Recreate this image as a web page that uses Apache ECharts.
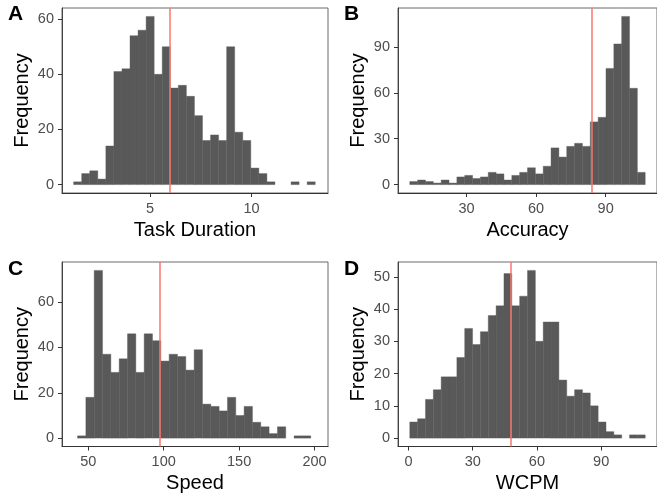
<!DOCTYPE html>
<html>
<head>
<meta charset="utf-8">
<script src="https://cdn.jsdelivr.net/npm/echarts@6/dist/echarts.min.js"></script>
<style>
  html, body { margin: 0; padding: 0; background: #fff; }
  #chart { width: 657px; height: 499px; }
</style>
</head>
<body>
<div id="chart"></div>
<script>
// histogram counts (30 bins per panel, 28 for speed)
const durationCounts = [1, 4, 5, 2, 14, 41, 42, 54, 56, 61, 40, 50, 35, 36, 32, 25, 16, 18, 16, 50, 19, 16, 6, 4, 1, 0, 0, 1, 0, 1];
const accuracyCounts = [2, 3, 2, 1, 3, 1, 5, 6, 4, 5, 8, 7, 3, 6, 8, 11, 7, 12, 24, 18, 25, 27, 25, 41, 44, 76, 92, 110, 63, 8];
const speedCounts = [1, 18, 74, 37, 29, 35, 46, 29, 46, 43, 34, 37, 36, 30, 39, 15, 14, 12, 18, 10, 14, 7, 5, 2, 5, 0, 1, 1];
const wcpmCounts = [5, 6, 12, 15, 19, 19, 25, 34, 29, 33, 38, 41, 51, 41, 44, 52, 30, 36, 36, 18, 13, 15, 14, 10, 5, 2, 1, 0, 1, 1];

// first bin edge and bin width of each histogram
const durationBin = [1.23, 0.397];
const accuracyBin = [5.52, 3.385];
const speedBin = [42.9, 5.52];
const wcpmBin = [0.6, 3.667];

// mean lines
const means = [5.95, 84, 97.7, 47.7];

// tick labels
const durationTicks = [5, 10];
const accuracyTicks = [30, 60, 90];
const speedTicks = [50, 100, 150, 200];
const wcpmTicks = [0, 30, 60, 90];
const freqTicksA = [0, 20, 40, 60];
const freqTicksB = [0, 30, 60, 90];
const freqTicksC = [0, 20, 40, 60];
const freqTicksD = [0, 10, 20, 30, 40, 50];

const names = ['Task Duration', 'Accuracy', 'Speed', 'WCPM'];
const letters = ['A', 'B', 'C', 'D'];

function toBins(counts, bin) {
  return counts.map((c, i) => [bin[0] + i * bin[1], bin[0] + (i + 1) * bin[1], c]);
}

const panels = [
  { data: toBins(durationCounts, durationBin), xMin: 0.656, xMax: 13.77, yMax: 61, xTicks: durationTicks, yTicks: freqTicksA },
  { data: toBins(accuracyCounts, accuracyBin), xMin: 0.44, xMax: 112.15, yMax: 110, xTicks: accuracyTicks, yTicks: freqTicksB },
  { data: toBins(speedCounts, speedBin), xMin: 32.6, xMax: 208.9, yMax: 74, xTicks: speedTicks, yTicks: freqTicksC },
  { data: toBins(wcpmCounts, wcpmBin), xMin: -4.9, xMax: 116.1, yMax: 52, xTicks: wcpmTicks, yTicks: freqTicksD },
];

const grids = [
  { left: 62, top: 8, width: 266, height: 185 },
  { left: 398, top: 8, width: 267, height: 185 },
  { left: 62, top: 262, width: 266, height: 184.5 },
  { left: 398, top: 262, width: 267, height: 184.5 },
];

const font = 'Liberation Sans, Arial, sans-serif';
const chart = echarts.init(document.getElementById('chart'));

const option = {
  animation: false,
  backgroundColor: '#fff',
  title: letters.map((l, i) => ({
    text: l,
    left: i % 2 === 0 ? 8 : 344,
    top: i < 2 ? 4 : 259,
    padding: 0,
    textStyle: { fontSize: 21, fontWeight: 'bold', color: '#000', fontFamily: font },
  })),
  grid: grids.map(g => ({ ...g, show: true, borderColor: '#6b6b6b', borderWidth: 1, backgroundColor: 'transparent' })),
  xAxis: panels.map((p, i) => ({
    type: 'value',
    gridIndex: i,
    min: p.xMin,
    max: p.xMax,
    name: names[i],
    nameLocation: 'middle',
    nameGap: 27,
    nameTextStyle: { fontSize: 20, color: '#000', fontFamily: font },
    splitLine: { show: false },
    axisLine: { onZero: false, lineStyle: { color: '#333', width: 1 } },
    axisTick: { show: true, length: 4, customValues: p.xTicks, lineStyle: { color: '#333' } },
    axisLabel: { customValues: p.xTicks, margin: 8, fontSize: 14.5, color: '#4d4d4d', fontFamily: font },
  })),
  yAxis: panels.map((p, i) => ({
    type: 'value',
    gridIndex: i,
    min: -0.05 * p.yMax,
    max: 1.05 * p.yMax,
    name: 'Frequency',
    nameLocation: 'middle',
    nameGap: 30,
    nameTextStyle: { fontSize: 20, color: '#000', fontFamily: font },
    splitLine: { show: false },
    axisLine: { onZero: false, lineStyle: { color: '#444', width: 1 } },
    axisTick: { show: true, length: 4, customValues: p.yTicks, lineStyle: { color: '#333' } },
    axisLabel: { customValues: p.yTicks, margin: 8, fontSize: 14.5, color: '#4d4d4d', fontFamily: font },
  })),
  series: panels.map((p, i) => ({
    type: 'custom',
    xAxisIndex: i,
    yAxisIndex: i,
    data: p.data,
    encode: { x: [0, 1], y: 2 },
    renderItem: (params, api) => {
      if (!api.value(2)) return null; // empty bin, nothing drawn
      const top = api.coord([api.value(0), api.value(2)]);
      const base = api.coord([api.value(1), 0]);
      return {
        type: 'rect',
        shape: { x: top[0], y: top[1], width: base[0] - top[0], height: base[1] - top[1] },
        style: { fill: '#595959', stroke: '#595959', lineWidth: 0.4 },
      };
    },
    markLine: {
      silent: true,
      symbol: 'none',
      label: { show: false },
      lineStyle: { color: '#F8766D', width: 1.5, type: 'solid' },
      data: [{ xAxis: means[i] }],
    },
  })),
};

chart.setOption(option);
</script>
</body>
</html>
